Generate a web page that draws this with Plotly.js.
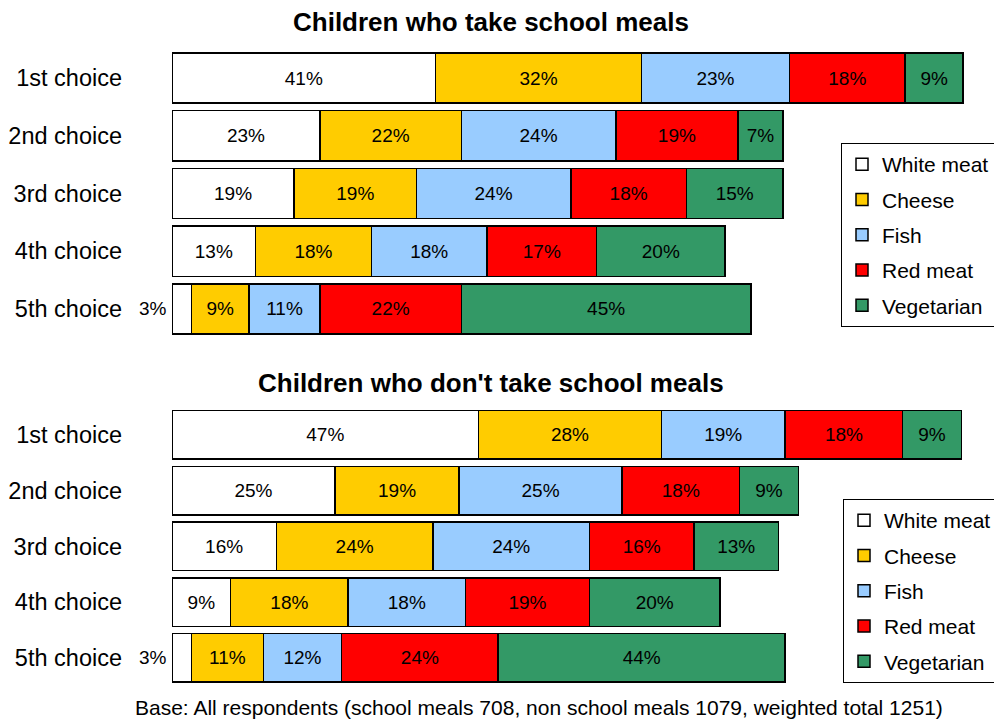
<!DOCTYPE html>
<html>
<head>
<meta charset="utf-8">
<script src="https://cdn.plot.ly/plotly-3.0.1.min.js"></script>
<style>html,body{margin:0;padding:0;background:#fff}#chart{width:994px;height:720px}</style>
</head>
<body>
<div id="chart"></div>
<script>
const choices = ['1st choice', '2nd choice', '3rd choice', '4th choice', '5th choice'];
const foods = ['White meat', 'Cheese', 'Fish', 'Red meat', 'Vegetarian'];
const foodColors = ['#FFFFFF', '#FFCC00', '#99CCFF', '#FF0000', '#339966'];

// Children who take school meals (%)
const schoolWhite = [41, 23, 19, 13, 3];
const schoolCheese = [32, 22, 19, 18, 9];
const schoolFish = [23, 24, 24, 18, 11];
const schoolRed = [18, 19, 18, 17, 22];
const schoolVeg = [9, 7, 15, 20, 45];

// Children who don't take school meals (%)
const nonWhite = [47, 25, 16, 9, 3];
const nonCheese = [28, 19, 24, 18, 11];
const nonFish = [19, 25, 24, 18, 12];
const nonRed = [18, 18, 16, 19, 24];
const nonVeg = [9, 9, 13, 20, 44];

const titleTop = 'Children who take school meals';
const titleBottom = "Children who don't take school meals";
const footnote = 'Base: All respondents (school meals 708, non school meals 1079, weighted total 1251)';

const FONT = 'Liberation Sans, Arial, sans-serif';
const smallLimit = 5;

const schoolSeries = [schoolWhite, schoolCheese, schoolFish, schoolRed, schoolVeg];
const nonSeries = [nonWhite, nonCheese, nonFish, nonRed, nonVeg];

// plot area spans pixels 172..994; helper converts a pixel x to plot-relative paper x
const L = 172, W = 822;
const px = p => (p - L) / W;

function makeTraces(series, xa, ya, legendId) {
  return series.map((vals, i) => ({
    type: 'bar',
    orientation: 'h',
    name: foods[i],
    legendgroup: legendId + '_' + i,
    x: vals,
    y: choices,
    xaxis: xa,
    yaxis: ya,
    legend: legendId,
    width: 0.87,
    marker: {color: foodColors[i], line: {color: '#000000', width: 1.5}},
    text: vals.map(v => v >= smallLimit ? v + '%' : ''),
    textposition: 'inside',
    insidetextanchor: 'middle',
    textangle: 0,
    textfont: {family: FONT, size: 19, color: '#000000'},
    hoverinfo: 'name+x'
  }));
}

const traces = [].concat(
  makeTraces(schoolSeries, 'x', 'y', 'legend'),
  makeTraces(nonSeries, 'x2', 'y2', 'legend2')
);

const annotations = [];
function smallLabels(series, xa, ya) {
  series[0].forEach((v, j) => {
    if (v < smallLimit) {
      annotations.push({
        xref: xa, yref: ya, x: 0, y: choices[j], text: v + '%',
        xanchor: 'right', yanchor: 'middle', xshift: -3, showarrow: false,
        font: {family: FONT, size: 19, color: '#000000'}
      });
    }
  });
}
smallLabels(schoolSeries, 'x', 'y');
smallLabels(nonSeries, 'x2', 'y2');

annotations.push(
  {xref: 'paper', yref: 'paper', x: px(491), y: 1 - 22 / 720, text: '<b>' + titleTop + '</b>',
   showarrow: false, xanchor: 'center', yanchor: 'middle', font: {family: FONT, size: 26, color: '#000000'}},
  {xref: 'paper', yref: 'paper', x: px(491), y: 1 - 383 / 720, text: '<b>' + titleBottom + '</b>',
   showarrow: false, xanchor: 'center', yanchor: 'middle', font: {family: FONT, size: 26, color: '#000000'}},
  {xref: 'paper', yref: 'paper', x: px(539), y: 1 - 707 / 720, text: footnote,
   showarrow: false, xanchor: 'center', yanchor: 'middle', font: {family: FONT, size: 21, color: '#000000'}}
);

const xCommon = {showgrid: false, zeroline: false, showline: false, showticklabels: false, ticks: '', fixedrange: true};
const yCommon = {
  type: 'category', categoryorder: 'array', categoryarray: choices, range: [4.5, -0.5],
  showgrid: false, zeroline: false, showline: false, ticks: '', ticklabelstandoff: 49,
  tickfont: {family: FONT, size: 23.5, color: '#000000'}, fixedrange: true
};

const legendCommon = {
  bgcolor: '#FFFFFF', bordercolor: '#000000', borderwidth: 1,
  font: {family: FONT, size: 21, color: '#000000'}, traceorder: 'grouped', tracegroupgap: 5,
  xanchor: 'left', yanchor: 'top', itemclick: false, itemdoubleclick: false
};

const layout = {
  width: 994, height: 720,
  margin: {l: L, r: 0, t: 0, b: 0, autoexpand: false},
  paper_bgcolor: '#FFFFFF', plot_bgcolor: '#FFFFFF',
  barmode: 'stack',
  showlegend: true,
  xaxis: Object.assign({}, xCommon, {domain: [0, 1], range: [0, 127.8], anchor: 'y'}),
  yaxis: Object.assign({}, yCommon, {domain: [0.5308, 0.9317], anchor: 'x'}),
  xaxis2: Object.assign({}, xCommon, {domain: [0, 1], range: [0, 126], anchor: 'y2'}),
  yaxis2: Object.assign({}, yCommon, {domain: [0.0474, 0.4346], anchor: 'x2'}),
  legend: Object.assign({}, legendCommon, {x: px(841), y: 1 - 143 / 720}),
  legend2: Object.assign({}, legendCommon, {x: px(843), y: 1 - 499 / 720}),
  annotations: annotations
};

Plotly.newPlot('chart', traces, layout, {displayModeBar: false, staticPlot: true});
</script>
</body>
</html>
